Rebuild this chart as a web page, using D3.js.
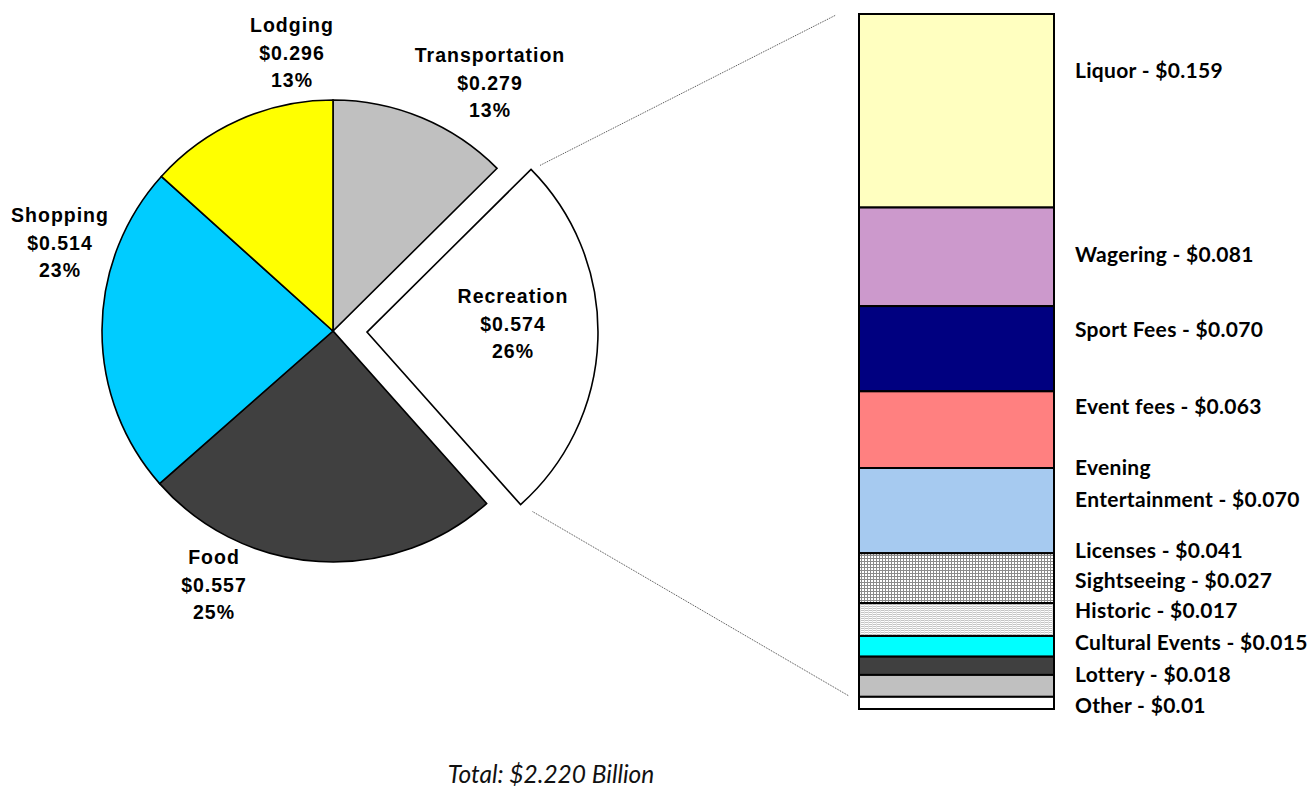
<!DOCTYPE html>
<html>
<head>
<meta charset="utf-8">
<script src="https://cdn.jsdelivr.net/npm/d3@7"></script>
<style>
  body { margin: 0; background: #fff; }
  svg { display: block; }
</style>
</head>
<body>
<script>
'use strict';

// pie data (billions), clockwise from 12 o'clock
const pieCats = ["Transportation", "Recreation", "Food", "Shopping", "Lodging"];
const pieValues = [0.279, 0.574, 0.557, 0.514, 0.296];

// recreation breakdown, top of bar to bottom
const barCats = ["Liquor", "Wagering", "Sport Fees", "Event fees", "Evening Entertainment",
  "Licenses", "Sightseeing", "Historic", "Cultural Events", "Lottery", "Other"];
const barValues = [0.159, 0.081, 0.070, 0.063, 0.070, 0.041, 0.027, 0.017, 0.015, 0.018, 0.01];
const barLabels = ["$0.159", "$0.081", "$0.070", "$0.063", "$0.070", "$0.041", "$0.027",
  "$0.017", "$0.015", "$0.018", "$0.01"];

const totalLabel = "Total: $2.220 Billion";

// layout / style, kept apart from the data
const width = 1315, height = 789;
const pieCenter = [333, 331];
const radius = 231;
const explode = 34;
const pieColors = ["#c0c0c0", "#ffffff", "#404040", "#00ccff", "#ffff00"];
// label anchor (center x, first baseline y) for each slice, Excel puts them where it likes
const pieLabelPos = [[490, 62], [513, 303], [214, 564], [60, 222], [292, 32]];
const barColors = ["#ffffc0", "#cc99cc", "#000080", "#ff8080", "#a6caf0",
  "url(#grid)", "url(#fine)", "#00ffff", "#404040", "#c0c0c0", "#ffffff"];
const barLabelY = [[78], [262], [337], [414], [475, 507], [558], [588], [618], [650], [682], [713]];

const svg = d3.select("body").append("svg")
  .attr("width", width)
  .attr("height", height);

// patterns for licenses / sightseeing
const defs = svg.append("defs");
const grid = defs.append("pattern")
  .attr("id", "grid")
  .attr("patternUnits", "userSpaceOnUse")
  .attr("width", 3).attr("height", 3);
grid.append("rect").attr("width", 3).attr("height", 3).attr("fill", "#fff");
grid.append("path").attr("d", "M0,0.5H3M0.5,0V3")
  .attr("stroke", "#8a8a8a").attr("stroke-width", 1);

const fine = defs.append("pattern")
  .attr("id", "fine")
  .attr("patternUnits", "userSpaceOnUse")
  .attr("width", 4).attr("height", 2);
fine.append("rect").attr("width", 4).attr("height", 2).attr("fill", "#fff");
fine.append("path").attr("d", "M0,0.5H4")
  .attr("stroke", "#c4c4c4").attr("stroke-width", 1);
fine.append("path").attr("d", "M0.5,0V2")
  .attr("stroke", "#e2e2e2").attr("stroke-width", 1);

// ---- pie ----
const total = d3.sum(pieValues);
const pie = d3.pie().sort(null).value(d => d);
const arcs = pie(pieValues);
const arc = d3.arc().innerRadius(0).outerRadius(radius);

const pieG = svg.append("g")
  .attr("transform", "translate(" + pieCenter[0] + "," + pieCenter[1] + ")");

pieG.selectAll("path")
  .data(arcs)
  .enter().append("path")
  .attr("d", arc)
  .attr("transform", (d, i) => {
    if (i !== 1) return null;
    const mid = (d.startAngle + d.endAngle) / 2;
    return "translate(" + (explode * Math.sin(mid)) + "," + (-explode * Math.cos(mid)) + ")";
  })
  .attr("fill", (d, i) => pieColors[i])
  .attr("stroke", "#000")
  .attr("stroke-width", 1.6)
  .attr("stroke-linejoin", "miter");

const pct = d3.format(".0%");
const money = d3.format("$.3f");

arcs.forEach((d, i) => {
  const lines = [pieCats[i], money(pieValues[i]), pct(pieValues[i] / total)];
  const t = svg.append("text")
    .attr("text-anchor", "middle")
    .style("font-family", "'Liberation Sans', Arial, sans-serif")
    .style("font-weight", "bold")
    .style("font-size", "19.5px")
    .style("letter-spacing", "1px")
    .attr("fill", "#000");
  lines.forEach((s, j) => {
    t.append("tspan")
      .attr("x", pieLabelPos[i][0])
      .attr("y", pieLabelPos[i][1] + j * 27.5)
      .text(s);
  });
});

// ---- stacked bar ----
const barX = 859, barW = 195, barTop = 14, barBottom = 709;
const barSum = d3.sum(barValues);
const y = d3.scaleLinear().domain([0, barSum]).range([barTop, barBottom]);
const ends = d3.cumsum(barValues);
const segs = barValues.map((v, i) => ({ y0: ends[i] - v, y1: ends[i], i: i }));

svg.append("g").selectAll("rect")
  .data(segs)
  .enter().append("rect")
  .attr("x", barX)
  .attr("y", d => y(d.y0))
  .attr("width", barW)
  .attr("height", d => y(d.y1) - y(d.y0))
  .attr("fill", d => barColors[d.i])
  .attr("stroke", "#000")
  .attr("stroke-width", 2);

// bar labels
barCats.forEach((c, i) => {
  const full = c + " - " + barLabels[i];
  const lines = barLabelY[i].length > 1 ? ["Evening", "Entertainment - " + barLabels[i]] : [full];
  lines.forEach((s, j) => {
    svg.append("text")
      .attr("x", 1075)
      .attr("y", barLabelY[i][j])
      .style("font-family", "Lato, 'Open Sans', sans-serif")
      .style("font-weight", "bold")
      .style("font-size", "21px")
      .style("letter-spacing", "0.3px")
      .attr("fill", "#000")
      .text(s);
  });
});

// ---- connector lines from exploded slice to bar ----
const rec = arcs[1];
const recMid = (rec.startAngle + rec.endAngle) / 2;
const apex = [pieCenter[0] + explode * Math.sin(recMid), pieCenter[1] - explode * Math.cos(recMid)];
const cornerTop = [apex[0] + radius * Math.sin(rec.startAngle), apex[1] - radius * Math.cos(rec.startAngle)];
const cornerBot = [apex[0] + radius * Math.sin(rec.endAngle), apex[1] - radius * Math.cos(rec.endAngle)];

const connectors = [
  [cornerTop[0] + 9, cornerTop[1] - 4, barX - 23, y(0) + 1],
  [cornerBot[0] + 12, cornerBot[1] + 7, barX - 10, y(barSum) - 13]
];
svg.append("g").selectAll("line")
  .data(connectors)
  .enter().append("line")
  .attr("x1", d => d[0]).attr("y1", d => d[1])
  .attr("x2", d => d[2]).attr("y2", d => d[3])
  .attr("stroke", "#444")
  .attr("stroke-width", 1)
  .attr("stroke-dasharray", "1,1");

// total
svg.append("text")
  .attr("x", 551)
  .attr("y", 783)
  .attr("text-anchor", "middle")
  .style("font-family", "Lato, 'Open Sans', sans-serif")
  .style("font-style", "italic")
  .style("font-size", "24.5px")
  .attr("fill", "#111")
  .text(totalLabel);
</script>
</body>
</html>
